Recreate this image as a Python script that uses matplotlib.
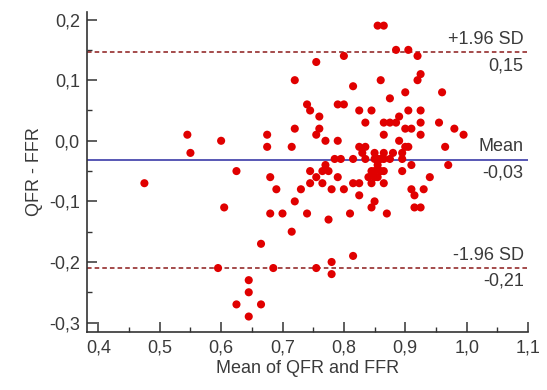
import matplotlib
matplotlib.use("Agg")
import matplotlib.pyplot as plt
from matplotlib.ticker import MultipleLocator, FuncFormatter

plt.rcParams['font.family'] = ['Liberation Sans', 'DejaVu Sans']

# mean of QFR and FFR (x) and difference QFR - FFR (y)
mean_vals = [0.475, 0.545, 0.55, 0.60, 0.605, 0.595, 0.625, 0.625, 0.645, 0.645,
             0.645, 0.665, 0.665, 0.675, 0.675, 0.68, 0.68, 0.685, 0.69, 0.70,
             0.715, 0.715, 0.72, 0.72, 0.72, 0.73, 0.74, 0.745, 0.74, 0.755,
             0.755, 0.755, 0.745, 0.765, 0.77, 0.775, 0.755, 0.745, 0.765, 0.76,
             0.76, 0.77, 0.775, 0.78, 0.78, 0.78, 0.79, 0.79, 0.79, 0.785,
             0.795, 0.80, 0.80, 0.80, 0.81, 0.815, 0.815, 0.815, 0.815, 0.825,
             0.825, 0.835, 0.83, 0.825, 0.825, 0.835, 0.835, 0.845, 0.845, 0.85,
             0.85, 0.85, 0.855, 0.86, 0.865, 0.865, 0.875, 0.88, 0.855, 0.865,
             0.86, 0.865, 0.865, 0.865, 0.87, 0.875, 0.875, 0.885, 0.885, 0.89,
             0.89, 0.895, 0.895, 0.895, 0.90, 0.90, 0.90, 0.905, 0.905, 0.905,
             0.91, 0.91, 0.91, 0.915, 0.915, 0.92, 0.92, 0.925, 0.925, 0.925,
             0.925, 0.925, 0.93, 0.94, 0.955, 0.96, 0.965, 0.97, 0.98, 0.995,
             0.84, 0.845, 0.85, 0.855, 0.86, 0.865, 0.845, 0.85, 0.855]
diff_vals = [-0.07, 0.01, -0.02, 0.00, -0.11, -0.21, -0.05, -0.27, -0.23, -0.25,
             -0.29, -0.27, -0.17, 0.01, -0.01, -0.06, -0.12, -0.21, -0.08, -0.12,
             -0.01, -0.15, 0.10, 0.02, -0.10, -0.08, 0.06, 0.05, -0.12, 0.13,
             0.01, -0.21, -0.05, -0.05, -0.04, -0.05, -0.06, -0.07, -0.07, 0.04,
             0.02, 0.00, -0.13, -0.08, -0.20, -0.22, 0.06, 0.00, -0.06, -0.03,
             -0.03, 0.14, 0.06, -0.08, -0.12, 0.09, -0.03, -0.07, -0.19, 0.05,
             -0.01, -0.01, -0.02, -0.07, -0.09, 0.03, -0.03, 0.05, -0.11, -0.10,
             -0.02, -0.03, -0.03, -0.03, -0.02, -0.03, -0.03, -0.02, 0.19, 0.19,
             0.10, 0.03, 0.01, -0.07, -0.12, 0.07, 0.03, 0.03, 0.15, 0.04,
             0.00, -0.02, -0.03, -0.05, 0.08, 0.02, -0.01, -0.01, 0.15, 0.05,
             0.02, -0.04, -0.08, -0.09, -0.11, 0.14, 0.10, 0.11, 0.05, 0.03,
             0.01, -0.11, -0.08, -0.06, 0.03, 0.08, -0.01, -0.04, 0.02, 0.01,
             -0.06, -0.05, -0.05, -0.04, -0.05, -0.05, -0.07, -0.06, -0.06]

mean_diff = -0.031
upper_loa = 0.146
lower_loa = -0.21
line_labels = ['+1.96 SD', 'Mean', '-1.96 SD']
value_labels = ['0,15', '-0,03', '-0,21']

text_col = '#3a3a3a'

fig = plt.figure(figsize=(5.47, 3.9), dpi=100)
ax = fig.add_axes([0.1585, 0.148, 0.8068, 0.822])

ax.scatter(mean_vals, diff_vals, s=34, color='#e00000', edgecolors='none', zorder=3)

ax.axhline(mean_diff, color='#2a2aa0', lw=1.1, zorder=2)
ax.axhline(upper_loa, color='#8b1a1a', lw=1.1, ls=(0, (3, 2)), zorder=2)
ax.axhline(lower_loa, color='#8b1a1a', lw=1.1, ls=(0, (3, 2)), zorder=2)

# labels right next to the reference lines
for yv, top, bottom in zip([upper_loa, mean_diff, lower_loa], line_labels, value_labels):
    ax.text(1.093, yv + 0.007, top, ha='right', va='bottom', fontsize=13, color=text_col)
    ax.text(1.093, yv - 0.008, bottom, ha='right', va='top', fontsize=13, color=text_col)

ax.set_xlim(0.381, 1.1)
ax.set_ylim(-0.316, 0.213)

for s in ['top', 'right']:
    ax.spines[s].set_visible(False)
for s in ['left', 'bottom']:
    ax.spines[s].set_color('#333333')
    ax.spines[s].set_linewidth(1.2)

ax.xaxis.set_major_locator(MultipleLocator(0.1))
ax.xaxis.set_minor_locator(MultipleLocator(0.05))
ax.yaxis.set_major_locator(MultipleLocator(0.1))
ax.yaxis.set_minor_locator(MultipleLocator(0.05))

comma = FuncFormatter(lambda v, p: f'{v:.1f}'.replace('.', ',').replace('-0,0', '0,0'))
ax.xaxis.set_major_formatter(comma)
ax.yaxis.set_major_formatter(comma)

ax.tick_params(which='major', direction='in', length=7, width=1.1, color='#333333',
               labelsize=13, labelcolor=text_col, pad=5)
ax.tick_params(which='minor', direction='in', length=3.5, width=1.0, color='#333333')

ax.set_xlabel('Mean of QFR and FFR', fontsize=13, color=text_col, labelpad=3)
ax.set_ylabel('QFR - FFR', fontsize=13, color=text_col, labelpad=4)

fig.savefig('out.png', dpi=100)
